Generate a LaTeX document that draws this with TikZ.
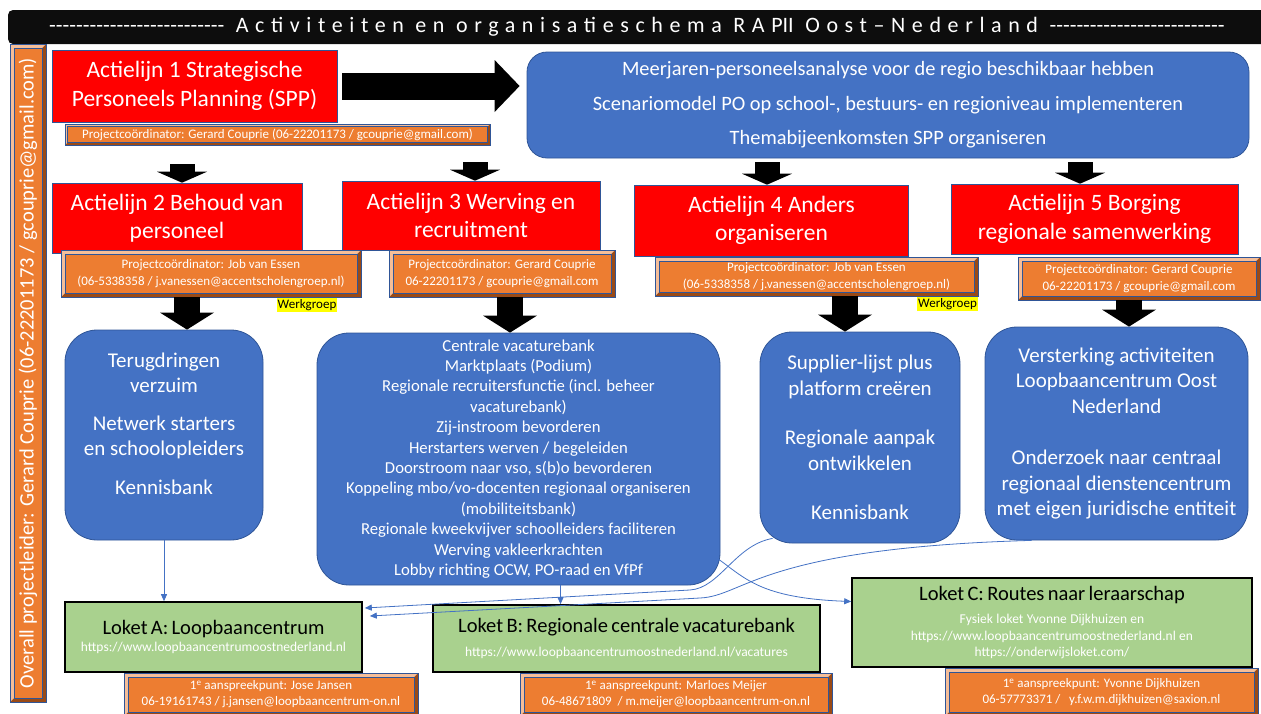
\documentclass[tikz,border=0pt]{standalone}
\usepackage{fontspec}
\setmainfont{Carlito}
\newfontfamily\titelfont[LetterSpace=30]{Carlito}
\usepackage{graphicx}
\usetikzlibrary{arrows.meta}
\usetikzlibrary{positioning}
\definecolor{rood}{HTML}{FF0000}
\definecolor{blauw}{HTML}{4472C4}
\definecolor{blauwrand}{HTML}{2F5597}
\definecolor{oranje}{HTML}{ED7D31}
\definecolor{oranjelicht}{HTML}{F6BE98}
\definecolor{oranjedonker}{HTML}{9A4A16}
\definecolor{groen}{HTML}{A9D18E}
\definecolor{geel}{HTML}{FFFF00}
\newcommand{\fs}[2]{\fontsize{#1}{#2}\selectfont}
\newcommand{\streepjes}{{\addfontfeature{LetterSpace=0}\foreach \k in {1,...,26}{-}}}
\tikzset{
  bevel/.style={fill=oranjedonker, draw=blauwrand, line width=0.6pt, text=white, align=center, inner sep=0pt,
    path picture={
      \fill[oranjelicht] (path picture bounding box.north west) -- (path picture bounding box.north east)
        -- ([xshift=-#1,yshift=-#1]path picture bounding box.north east)
        -- ([xshift=#1,yshift=-#1]path picture bounding box.north west)
        -- ([xshift=#1,yshift=#1]path picture bounding box.south west)
        -- (path picture bounding box.south west) -- cycle;
      \filldraw[oranje, draw=blauwrand, line width=0.6pt] ([xshift=#1,yshift=-#1]path picture bounding box.north west)
        rectangle ([xshift=-#1,yshift=#1]path picture bounding box.south east);
    }},
  bevel/.default=4pt,
}

\begin{document}
\begin{tikzpicture}[x=1pt,y=-1pt,
    actie/.style={draw=blauwrand, line width=0.6pt, fill=rood, text=white, align=center, inner sep=0pt, font=\fs{23.5}{28.5}},
    blok/.style={draw=blauwrand, line width=0.8pt, fill=blauw, rounded corners=#1, text=white, align=center, inner sep=0pt},
    blok/.default=32pt,
    loket/.style={draw=black, line width=1.6pt, fill=groen, align=center, inner sep=0pt},
    werkgroep/.style={fill=geel, inner sep=1pt, font=\fs{13}{15}},
    grotepijl/.style={line width=27pt, -{Triangle[width=52pt,length=25pt,line width=0pt]}},
    kleinepijl/.style={line width=25pt, -{Triangle[width=50pt,length=11pt,line width=0pt]}},
    middenpijl/.style={line width=26pt, -{Triangle[width=54pt,length=17pt,line width=0pt]}},
    dunnepijl/.style={draw=blauw, line width=0.8pt, -{Triangle[length=7pt,width=6pt]}}]
    \useasboundingbox (0,0) rectangle (1261,713);
    \node[fill=black!95, rounded corners=5pt, minimum width=1262pt, minimum height=34pt, inner sep=0pt] (balk) at (639,27) {};
    \node[text=white, font=\titelfont\fs{22}{26}, inner sep=0pt] (titel) at (637,27)
        {\streepjes\ Activiteiten en organisatieschema RAP{\addfontfeature{LetterSpace=0}II} Oost–Nederland \streepjes};
    \node[bevel, minimum width=36pt, minimum height=658pt, font=\fs{20.5}{24}] (leider) at (28,373)
        {\rotatebox{90}{Overall projectleider: Gerard Couprie (06-22201173 / gcouprie@gmail.com)}};

    \node[actie, minimum width=285pt, minimum height=72pt] (al1) at (194.5,86) {Actielijn 1 Strategische\\Personeels Planning (SPP)};
    \node[bevel=2.5pt, minimum width=425pt, minimum height=21pt, font=\fs{13}{16}] (c1) at (277.5,134.5)
        {Projectcoördinator: Gerard Couprie (06-22201173 / gcouprie@gmail.com)};
    \node[blok=20pt, minimum width=722pt, minimum height=106pt, font=\fs{20.4}{24.4}] (plan) at (888,105)
        {Meerjaren-personeelsanalyse voor de regio beschikbaar hebben\\[10pt]Scenariomodel PO op school-, bestuurs- en regioniveau implementeren\\[10pt]Themabijeenkomsten SPP organiseren};
    \draw[grotepijl] ([xshift=5pt]al1.east) -- ([xshift=-7pt]al1.east -| plan.west);

    \node[actie, minimum width=250pt, minimum height=70pt] (al2) at (177,218) {Actielijn 2 Behoud van\\personeel};
    \node[actie, minimum width=258pt, minimum height=69pt] (al3) at (471,215.5) {Actielijn 3 Werving en\\recruitment};
    \node[actie, minimum width=274pt, minimum height=71pt] (al4) at (771.5,220.5) {Actielijn 4 Anders\\organiseren};
    \node[actie, minimum width=287pt, minimum height=70pt] (al5) at (1094.5,219) {Actielijn 5 Borging\\regionale samenwerking};
    \coordinate (pa2) at (182,164);
    \coordinate (pa3) at (475,162);
    \coordinate (pa4) at (767,162);
    \coordinate (pa5) at (1080,162);
    \draw[kleinepijl] (pa2) -- (pa2 |- al2.north);
    \draw[kleinepijl] (pa3) -- (pa3 |- al3.north);
    \draw[kleinepijl] (pa4) -- (pa4 |- al4.north);
    \draw[kleinepijl] (pa5) -- (pa5 |- al5.north);

    \node[bevel, minimum width=300pt, minimum height=47pt, font=\fs{13}{16.5}] (c2) at (211,273.5)
        {Projectcoördinator: Job van Essen\\(06-5338358 / j.vanessen@accentscholengroep.nl)};
    \node[bevel, minimum width=226pt, minimum height=47pt, font=\fs{13}{16.5}] (c3) at (502,273.5)
        {Projectcoördinator: Gerard Couprie\\06-22201173 / gcouprie@gmail.com};
    \node[bevel, minimum width=323pt, minimum height=39pt, font=\fs{13}{16.5}] (c4) at (816.5,276.5)
        {Projectcoördinator: Job van Essen\\(06-5338358 / j.vanessen@accentscholengroep.nl)};
    \node[bevel, minimum width=242pt, minimum height=43pt, font=\fs{13}{16.5}] (c5) at (1139,278.5)
        {Projectcoördinator: Gerard Couprie\\06-22201173 / gcouprie@gmail.com};
    \node[werkgroep] (wg2) at (307,305) {Werkgroep};
    \node[werkgroep] (wg4) at (947.5,304) {Werkgroep};

    \node[blok, minimum width=198pt, minimum height=210pt] (b2) at (164,435) {};
    \node[text=white, align=center, font=\fs{21}{25}, anchor=north, inner sep=0pt] (b2tekst) at ([yshift=-23pt]b2.north)
        {Terugdringen\\verzuim\\[13.5pt]Netwerk starters\\en schoolopleiders\\[14pt]Kennisbank};
    \node[blok, minimum width=403pt, minimum height=252pt, font=\fs{16.7}{20.4}] (b3) at (518.5,459)
        {Centrale vacaturebank\\Marktplaats (Podium)\\Regionale recruitersfunctie (incl. beheer\\vacaturebank)\\Zij-instroom bevorderen\\Herstarters werven / begeleiden\\Doorstroom naar vso, s(b)o bevorderen\\Koppeling mbo/vo-docenten regionaal organiseren\\(mobiliteitsbank)\\Regionale kweekvijver schoolleiders faciliteren\\Werving vakleerkrachten\\Lobby richting OCW, PO-raad en VfPf};
    \node[blok, minimum width=200pt, minimum height=211pt, font=\fs{21}{25.5}] (b4) at (860,437.5)
        {Supplier-lijst plus\\platform creëren\\[24pt]Regionale aanpak\\ontwikkelen\\[24pt]Kennisbank};
    \node[blok, minimum width=263pt, minimum height=213pt, font=\fs{21}{25.5}] (b5) at (1116.5,433.5)
        {Versterking activiteiten\\Loopbaancentrum Oost\\Nederland\\[26pt]Onderzoek naar centraal\\regionaal dienstencentrum\\met eigen juridische entiteit};
    \draw[middenpijl] (c2.south -| 187,0) -- (b2.north -| 187,0);
    \draw[middenpijl] (c3.south -| 510,0) -- (b3.north -| 510,0);
    \draw[middenpijl] (c4.south -| 845,0) -- (b4.north -| 845,0);
    \draw[middenpijl] (c5.south -| 1129,0) -- (b5.north -| 1129,0);

    \node[loket, minimum width=297pt, minimum height=70pt, text width=290pt] (la) at (213.5,637)
        {\fs{20.5}{24}Loket A: Loopbaancentrum\par{\color{white}\fs{13.5}{17}https://www.loopbaancentrumoostnederland.nl\par}};
    \node[loket, minimum width=387pt, minimum height=67pt, text width=380pt] (lb) at (626.5,638.5)
        {\fs{20.5}{24}Loket B: Regionale centrale vacaturebank\par\vspace{7pt}{\color{white}\fs{13.5}{17}https://www.loopbaancentrumoostnederland.nl/vacatures\par}};
    \node[loket, minimum width=400pt, minimum height=89pt, text width=390pt] (lc) at (1052,622.5)
        {\fs{20.5}{24}Loket C: Routes naar leraarschap\par\vspace{7pt}{\color{white}\fs{13.5}{16.5}Fysiek loket Yvonne Dijkhuizen en\\https://www.loopbaancentrumoostnederland.nl en\\https://onderwijsloket.com/\par}};
    \node[bevel, minimum width=294pt, minimum height=43pt, font=\fs{13}{16}] (aa) at (271,694.5)
        {1\textsuperscript{e} aanspreekpunt: Jose Jansen\\06-19161743 / j.jansen@loopbaancentrum-on.nl};
    \node[bevel, minimum width=312pt, minimum height=43pt, font=\fs{13}{16}] (ab) at (676,694.5)
        {1\textsuperscript{e} aanspreekpunt: Marloes Meijer\\06-48671809 \ / m.meijer@loopbaancentrum-on.nl};
    \node[bevel, minimum width=313pt, minimum height=48pt, font=\fs{13}{16}] (ac) at (1101.5,692)
        {1\textsuperscript{e} aanspreekpunt: Yvonne Dijkhuizen\\06-57773371 / \ \ y.f.w.m.dijkhuizen@saxion.nl};

    \draw[dunnepijl] (b2.south) -- (la.north -| b2.south);
    \draw[dunnepijl] ([xshift=42pt]b3.south) -- ([xshift=42pt]b3.south |- lb.north);
    \draw[dunnepijl] ([xshift=13pt,yshift=5pt]b4.south west) .. controls (735,545) and (720,588) .. (690,590) -- ([xshift=2pt,yshift=29pt]la.east);
    \draw[dunnepijl] ([xshift=47pt]b5.south west) .. controls (760,548) and (745,596) .. (700,598) -- ([xshift=7pt,yshift=21pt]la.east);
    \draw[dunnepijl] ([xshift=-3pt,yshift=27pt]b3.south east) .. controls (745,578) and (760,598) .. ([yshift=21pt]lc.west);
\end{tikzpicture}
\end{document}
